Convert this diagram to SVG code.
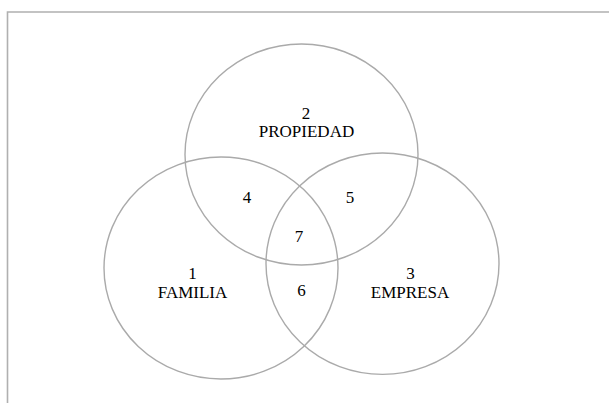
<svg xmlns="http://www.w3.org/2000/svg" width="609" height="403" viewBox="0 0 609 403">
<style>
.c{fill:none;stroke:#aaaaaa;stroke-width:1.4}
.f{fill:none;stroke:#b0b0b0;stroke-width:1.6}
text{font-family:"Liberation Serif","Times New Roman",serif;font-size:17px;fill:#000;text-anchor:middle}
</style>
<rect width="609" height="403" fill="#fff"/>
<g id="frame"><path class="f" d="M7.5 403 V12 H609"/></g>
<g id="propiedad"><ellipse class="c" cx="301.5" cy="154.5" rx="116.5" ry="110.5"/><text x="306" y="119">2</text><text x="306.5" y="137">PROPIEDAD</text></g>
<g id="familia"><ellipse class="c" cx="221" cy="268" rx="117" ry="111"/><text x="192.5" y="279">1</text><text x="192.5" y="298">FAMILIA</text></g>
<g id="empresa"><ellipse class="c" cx="382.5" cy="263.7" rx="116.5" ry="110.7"/><text x="410.5" y="279">3</text><text x="410" y="298">EMPRESA</text></g>
<g id="r4"><text x="247" y="203">4</text></g>
<g id="r5"><text x="350" y="203">5</text></g>
<g id="r7"><text x="299" y="242">7</text></g>
<g id="r6"><text x="301.5" y="296">6</text></g>
</svg>
